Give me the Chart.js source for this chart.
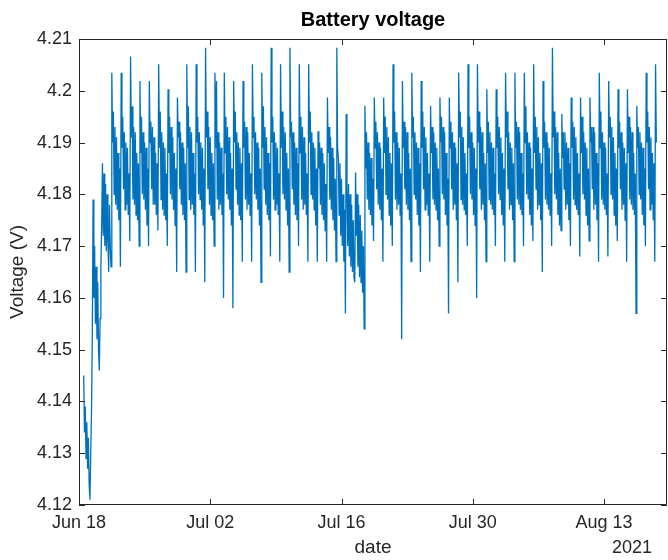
<!DOCTYPE html>
<html>
<head>
<meta charset="utf-8">
<title>Battery voltage</title>
<script src="https://cdn.jsdelivr.net/npm/chart.js@4"></script>
<style>
  html, body { margin: 0; padding: 0; background: #ffffff; }
  canvas { display: block; }
</style>
</head>
<body>
<canvas id="voltageChart" width="668" height="560"></canvas>
<script>
// Voltage samples, one every 2 hours from Jun 18 12:00
const week1 = [
  4.145, 4.134, 4.139, 4.129, 4.136, 4.127, 4.133, 4.124, 4.121, 4.130, 4.138, 4.152,
  4.179, 4.160, 4.170, 4.155, 4.166, 4.152, 4.163, 4.150, 4.146, 4.156, 4.166, 4.174,
  4.186, 4.172, 4.184, 4.170, 4.182, 4.169, 4.180, 4.171, 4.165, 4.178, 4.170, 4.166,
  4.2035, 4.190, 4.196, 4.180, 4.193, 4.178, 4.191, 4.177, 4.188, 4.175, 4.185, 4.166,
  4.2035, 4.189, 4.195, 4.181, 4.192, 4.177, 4.190, 4.178, 4.189, 4.176, 4.184, 4.171,
  4.2066, 4.191, 4.197, 4.179, 4.193, 4.178, 4.192, 4.176, 4.188, 4.175, 4.186, 4.170,
  4.2019, 4.188, 4.195, 4.180, 4.192, 4.179, 4.190, 4.177, 4.189, 4.174, 4.185, 4.170
];
const week2 = [
  4.2019, 4.190, 4.194, 4.181, 4.193, 4.178, 4.191, 4.178, 4.188, 4.176, 4.186, 4.173,
  4.2051, 4.189, 4.196, 4.179, 4.192, 4.177, 4.190, 4.176, 4.189, 4.175, 4.184, 4.170,
  4.2003, 4.188, 4.195, 4.180, 4.193, 4.179, 4.191, 4.177, 4.188, 4.174, 4.185, 4.165,
  4.1987, 4.191, 4.194, 4.181, 4.192, 4.178, 4.190, 4.176, 4.189, 4.175, 4.186, 4.165,
  4.2051, 4.189, 4.197, 4.179, 4.193, 4.177, 4.192, 4.178, 4.188, 4.176, 4.184, 4.165,
  4.2051, 4.190, 4.195, 4.180, 4.192, 4.179, 4.190, 4.177, 4.189, 4.174, 4.185, 4.163,
  4.2083, 4.191, 4.196, 4.181, 4.193, 4.178, 4.191, 4.176, 4.188, 4.175, 4.186, 4.170
];
const week3 = [
  4.2035, 4.189, 4.2019, 4.179, 4.192, 4.177, 4.190, 4.178, 4.189, 4.176, 4.184, 4.160,
  4.2035, 4.188, 4.195, 4.180, 4.193, 4.179, 4.191, 4.177, 4.188, 4.174, 4.185, 4.158,
  4.2019, 4.190, 4.196, 4.181, 4.192, 4.178, 4.190, 4.176, 4.189, 4.175, 4.186, 4.167,
  4.2019, 4.189, 4.194, 4.179, 4.193, 4.177, 4.192, 4.178, 4.188, 4.176, 4.184, 4.167,
  4.2051, 4.191, 4.195, 4.180, 4.192, 4.179, 4.190, 4.177, 4.189, 4.174, 4.185, 4.163,
  4.2035, 4.189, 4.197, 4.181, 4.193, 4.178, 4.191, 4.176, 4.188, 4.175, 4.186, 4.168,
  4.2083, 4.190, 4.195, 4.179, 4.192, 4.177, 4.190, 4.178, 4.189, 4.176, 4.184, 4.167
];
const week4 = [
  4.2051, 4.189, 4.196, 4.180, 4.193, 4.179, 4.192, 4.177, 4.188, 4.174, 4.185, 4.165,
  4.2083, 4.191, 4.194, 4.181, 4.192, 4.178, 4.190, 4.176, 4.189, 4.175, 4.186, 4.170,
  4.2051, 4.188, 4.195, 4.179, 4.193, 4.177, 4.191, 4.178, 4.188, 4.176, 4.184, 4.167,
  4.2051, 4.190, 4.196, 4.180, 4.192, 4.179, 4.190, 4.177, 4.189, 4.174, 4.185, 4.167,
  4.1922, 4.185, 4.190, 4.178, 4.189, 4.176, 4.188, 4.175, 4.186, 4.173, 4.182, 4.167,
  4.1987, 4.188, 4.193, 4.179, 4.191, 4.177, 4.189, 4.175, 4.187, 4.173, 4.183, 4.167,
  4.2083, 4.189, 4.187, 4.176, 4.186, 4.172, 4.183, 4.170, 4.180, 4.167, 4.177, 4.157
];
const week5 = [
  4.1955, 4.181, 4.170, 4.182, 4.168, 4.180, 4.166, 4.178, 4.165, 4.175, 4.164, 4.163,
  4.1842, 4.172, 4.180, 4.166, 4.178, 4.164, 4.176, 4.163, 4.173, 4.161, 4.170, 4.154,
  4.1971, 4.185, 4.192, 4.179, 4.190, 4.177, 4.188, 4.176, 4.187, 4.174, 4.183, 4.171,
  4.1987, 4.189, 4.194, 4.181, 4.192, 4.178, 4.190, 4.177, 4.189, 4.175, 4.185, 4.167,
  4.1987, 4.188, 4.195, 4.180, 4.193, 4.179, 4.191, 4.176, 4.188, 4.174, 4.186, 4.170,
  4.2051, 4.190, 4.196, 4.179, 4.192, 4.177, 4.190, 4.178, 4.189, 4.176, 4.184, 4.152,
  4.2019, 4.189, 4.194, 4.181, 4.193, 4.178, 4.192, 4.177, 4.188, 4.175, 4.185, 4.167
];
const week6 = [
  4.2035, 4.191, 4.195, 4.180, 4.192, 4.179, 4.190, 4.176, 4.189, 4.174, 4.186, 4.165,
  4.2019, 4.189, 4.196, 4.181, 4.193, 4.177, 4.191, 4.178, 4.188, 4.176, 4.184, 4.167,
  4.1971, 4.188, 4.193, 4.179, 4.192, 4.178, 4.190, 4.177, 4.189, 4.175, 4.185, 4.170,
  4.1987, 4.190, 4.195, 4.180, 4.193, 4.179, 4.192, 4.176, 4.188, 4.174, 4.183, 4.157,
  4.1987, 4.189, 4.194, 4.181, 4.192, 4.177, 4.190, 4.178, 4.189, 4.175, 4.186, 4.163,
  4.2035, 4.191, 4.196, 4.179, 4.193, 4.178, 4.191, 4.177, 4.188, 4.176, 4.184, 4.170,
  4.2051, 4.189, 4.195, 4.180, 4.192, 4.179, 4.190, 4.176, 4.189, 4.174, 4.185, 4.160
];
const week7 = [
  4.2051, 4.190, 4.196, 4.181, 4.193, 4.177, 4.192, 4.178, 4.188, 4.175, 4.186, 4.167,
  4.2003, 4.188, 4.194, 4.179, 4.192, 4.178, 4.190, 4.177, 4.189, 4.176, 4.184, 4.170,
  4.2003, 4.189, 4.195, 4.180, 4.193, 4.179, 4.191, 4.176, 4.188, 4.174, 4.185, 4.167,
  4.2035, 4.191, 4.196, 4.181, 4.192, 4.177, 4.190, 4.178, 4.189, 4.175, 4.186, 4.167,
  4.2035, 4.189, 4.194, 4.179, 4.193, 4.178, 4.192, 4.177, 4.188, 4.176, 4.184, 4.170,
  4.2035, 4.190, 4.197, 4.180, 4.192, 4.179, 4.190, 4.176, 4.189, 4.174, 4.185, 4.171,
  4.2051, 4.188, 4.195, 4.181, 4.193, 4.177, 4.191, 4.178, 4.188, 4.175, 4.186, 4.165
];
const week8 = [
  4.2019, 4.189, 4.194, 4.179, 4.192, 4.178, 4.190, 4.177, 4.189, 4.176, 4.184, 4.170,
  4.2083, 4.191, 4.196, 4.180, 4.193, 4.179, 4.192, 4.176, 4.188, 4.174, 4.185, 4.173,
  4.1955, 4.187, 4.192, 4.181, 4.192, 4.177, 4.190, 4.178, 4.189, 4.175, 4.186, 4.170,
  4.1987, 4.189, 4.194, 4.179, 4.193, 4.178, 4.191, 4.177, 4.188, 4.176, 4.184, 4.168,
  4.1987, 4.188, 4.195, 4.180, 4.192, 4.179, 4.190, 4.176, 4.189, 4.174, 4.185, 4.171,
  4.1987, 4.190, 4.193, 4.181, 4.193, 4.177, 4.192, 4.178, 4.188, 4.175, 4.186, 4.167,
  4.2035, 4.189, 4.196, 4.179, 4.192, 4.178, 4.190, 4.177, 4.189, 4.176, 4.184, 4.168
];
const week9 = [
  4.2019, 4.191, 4.195, 4.180, 4.193, 4.179, 4.191, 4.176, 4.188, 4.174, 4.185, 4.171,
  4.2003, 4.189, 4.194, 4.181, 4.192, 4.177, 4.190, 4.178, 4.189, 4.175, 4.186, 4.167,
  4.2003, 4.188, 4.195, 4.179, 4.193, 4.178, 4.192, 4.177, 4.188, 4.176, 4.184, 4.157,
  4.1971, 4.189, 4.193, 4.180, 4.192, 4.179, 4.190, 4.176, 4.189, 4.174, 4.185, 4.170,
  4.2035, 4.190, 4.196, 4.181, 4.193, 4.177, 4.191, 4.178, 4.188, 4.175, 4.186, 4.167,
  4.2051, 4.190
];

// x axis in days since Jun 18 2021 00:00
const startDay = 0.5;
const stepDays = 1 / 12;
const xMin = 0;
const xMax = 62.72;
const xTickDays = [0, 14, 28, 42, 56];
const xTickLabels = ['Jun 18', 'Jul 02', 'Jul 16', 'Jul 30', 'Aug 13'];
const yTicks = [4.12, 4.13, 4.14, 4.15, 4.16, 4.17, 4.18, 4.19, 4.2, 4.21];
const yTickLabels = ['4.12', '4.13', '4.14', '4.15', '4.16', '4.17', '4.18', '4.19', '4.2', '4.21'];

const voltage = [].concat(week1, week2, week3, week4, week5, week6, week7, week8, week9);
const points = voltage.map((v, i) => ({ x: startDay + i * stepDays, y: v }));

const axisColor = '#262626';
const fontFamily = "'Liberation Sans', Arial, Helvetica, sans-serif";

// box round the axes with inward ticks on all four sides, plus the year label
const boxPlugin = {
  id: 'boxPlugin',
  afterDraw(chart) {
    const { ctx, chartArea: a, scales } = chart;
    const len = 6;
    ctx.save();
    ctx.strokeStyle = axisColor;
    ctx.lineWidth = 1;
    ctx.beginPath();
    ctx.rect(a.left + 0.5, a.top + 0.5, a.right - a.left - 1, a.bottom - a.top - 1);
    xTickDays.forEach(d => {
      const px = Math.round(scales.x.getPixelForValue(d)) + 0.5;
      ctx.moveTo(px, a.bottom); ctx.lineTo(px, a.bottom - len);
      ctx.moveTo(px, a.top); ctx.lineTo(px, a.top + len);
    });
    yTicks.forEach(v => {
      const py = Math.round(scales.y.getPixelForValue(v)) + 0.5;
      ctx.moveTo(a.left, py); ctx.lineTo(a.left + len, py);
      ctx.moveTo(a.right, py); ctx.lineTo(a.right - len, py);
    });
    ctx.stroke();
    ctx.fillStyle = axisColor;
    ctx.font = '18px ' + fontFamily;
    ctx.textAlign = 'right';
    ctx.textBaseline = 'middle';
    ctx.fillText('2021', 652, 548);
    ctx.restore();
  }
};

const ctx = document.getElementById('voltageChart').getContext('2d');
new Chart(ctx, {
  type: 'line',
  data: {
    datasets: [{
      label: 'Voltage',
      data: points,
      borderColor: '#0072BD',
      borderWidth: 1.3,
      pointRadius: 0,
      tension: 0,
      fill: false
    }]
  },
  options: {
    responsive: false,
    animation: false,
    devicePixelRatio: 1,
    layout: { padding: { left: 0, right: 1, top: 0, bottom: 0 } },
    plugins: {
      legend: { display: false },
      tooltip: { enabled: false },
      title: {
        display: true,
        fullSize: false,
        text: 'Battery voltage',
        color: '#000000',
        font: { family: fontFamily, size: 20, weight: 'bold' },
        padding: { top: 8, bottom: 7 }
      }
    },
    scales: {
      x: {
        type: 'linear',
        min: xMin,
        max: xMax,
        afterBuildTicks: scale => { scale.ticks = xTickDays.map(v => ({ value: v })); },
        afterFit: scale => { scale.height = 55; },
        grid: { display: false, drawTicks: false },
        border: { display: false },
        ticks: {
          color: axisColor,
          padding: 7,
          maxRotation: 0,
          font: { family: fontFamily, size: 18 },
          callback: value => xTickLabels[xTickDays.indexOf(value)]
        },
        title: {
          display: true,
          text: 'date',
          color: axisColor,
          padding: { top: 0, bottom: 1 },
          font: { family: fontFamily, size: 19 }
        }
      },
      y: {
        min: 4.12,
        max: 4.21,
        afterBuildTicks: scale => { scale.ticks = yTicks.map(v => ({ value: v })); },
        afterFit: scale => { scale.width = 79; },
        grid: { display: false, drawTicks: false },
        border: { display: false },
        ticks: {
          color: axisColor,
          padding: 7,
          font: { family: fontFamily, size: 18 },
          callback: value => yTickLabels[yTicks.findIndex(t => Math.abs(t - value) < 1e-6)]
        },
        title: {
          display: true,
          text: 'Voltage (V)',
          color: axisColor,
          padding: { top: 6, bottom: 0 },
          font: { family: fontFamily, size: 19 }
        }
      }
    }
  },
  plugins: [boxPlugin]
});
</script>
</body>
</html>
